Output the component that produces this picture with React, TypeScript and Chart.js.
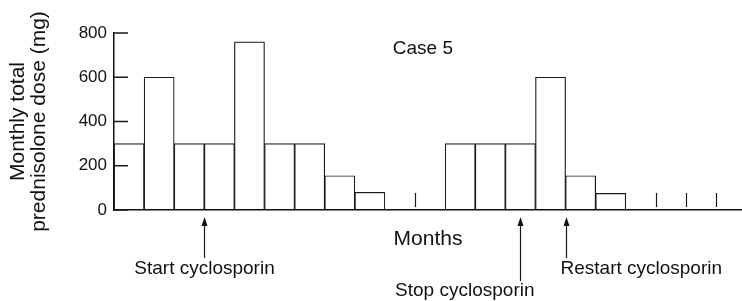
import React, { useEffect, useRef } from 'react';
import { Chart, registerables } from 'chart.js';

Chart.register(...registerables);

// ---- data ----
const monthIndex: number[] = [0, 1, 2, 3, 4, 5, 6, 7, 8, 9, 10, 11, 12, 13, 14, 15, 16, 17, 18, 19, 20];
const doses: number[] = [300, 600, 300, 300, 760, 300, 300, 155, 80, 0, 0, 300, 300, 300, 600, 155, 75, 0, 0, 0, 0];
const yTickStep = 200;
const yMax = 800;
const yTitle: string[] = ['Monthly total', 'prednisolone dose (mg)'];
const xTitle = 'Months';
const caseLabel = 'Case 5';
const eventLabels: string[] = ['Start cyclosporin', 'Stop cyclosporin', 'Restart cyclosporin'];
const eventMonths: number[] = [3, 13.5, 15];

const FONT = "'Liberation Sans', Arial, Helvetica, sans-serif";

// styling for event annotations (offsets relative to chart bottom / arrow x)
const eventStyles = [
  { lineEnd: 48, align: 'center' as CanvasTextAlign, dx: 0, baseline: 64 },
  { lineEnd: 71, align: 'right' as CanvasTextAlign, dx: 14, baseline: 86 },
  { lineEnd: 48, align: 'left' as CanvasTextAlign, dx: -6, baseline: 64 },
];

const annotationPlugin = {
  id: 'customAnnotations',
  afterDraw(chart: any) {
    const { ctx, chartArea, scales } = chart;
    const xs = scales.x;
    const ys = scales.y;
    ctx.save();
    // inward y ticks
    ctx.strokeStyle = '#1a1a1a';
    ctx.lineWidth = 1.5;
    ys.ticks.forEach((t: any) => {
      const py = ys.getPixelForValue(t.value);
      ctx.beginPath();
      ctx.moveTo(chartArea.left, py);
      ctx.lineTo(chartArea.left + 14, py);
      ctx.stroke();
    });
    // separators between consecutive empty months
    ctx.lineWidth = 1.2;
    for (let i = 0; i < doses.length - 1; i++) {
      if (doses[i] === 0 && doses[i + 1] === 0) {
        const px = Math.round(xs.getPixelForValue(monthIndex[i + 1])) + 0.5;
        ctx.beginPath();
        ctx.moveTo(px, chartArea.bottom - 17);
        ctx.lineTo(px, chartArea.bottom - 3);
        ctx.stroke();
      }
    }
    // arrows + labels
    ctx.font = `19px ${FONT}`;
    ctx.fillStyle = '#111';
    ctx.textBaseline = 'alphabetic';
    eventLabels.forEach((label, i) => {
      const st = eventStyles[i];
      const px = Math.round(xs.getPixelForValue(eventMonths[i])) + 0.5;
      const tip = chartArea.bottom + 7;
      ctx.beginPath();
      ctx.moveTo(px, tip + 6);
      ctx.lineTo(px, chartArea.bottom + st.lineEnd);
      ctx.lineWidth = 1.2;
      ctx.stroke();
      ctx.beginPath();
      ctx.moveTo(px, tip);
      ctx.lineTo(px - 3, tip + 9);
      ctx.lineTo(px + 3, tip + 9);
      ctx.closePath();
      ctx.fill();
      ctx.textAlign = st.align;
      ctx.fillText(label, px + st.dx, chartArea.bottom + st.baseline);
    });
    // case label
    ctx.textAlign = 'left';
    ctx.fillText(caseLabel, chartArea.left + (chartArea.right - chartArea.left) * 0.444, chartArea.top + 21);
    ctx.restore();
  },
};

export default function App() {
  const canvasRef = useRef<HTMLCanvasElement | null>(null);

  useEffect(() => {
    if (!canvasRef.current) return;
    const chart = new Chart(canvasRef.current, {
      type: 'bar',
      data: {
        datasets: [
          {
            data: monthIndex.map((m, i) => ({ x: m + 0.5, y: doses[i] })),
            backgroundColor: '#ffffff',
            borderColor: '#1a1a1a',
            borderWidth: (c: any) => (c.raw && c.raw.y === 0 ? 0 : 1.2),
            borderSkipped: 'start',
            barPercentage: 1,
            categoryPercentage: 1,
          },
        ],
      },
      options: {
        animation: false,
        responsive: true,
        maintainAspectRatio: false,
        layout: { padding: { top: 33, left: 0, right: 0, bottom: 0 } },
        plugins: {
          legend: { display: false },
          tooltip: { enabled: false },
          title: { display: false },
        },
        scales: {
          x: {
            type: 'linear',
            offset: false,
            min: 0,
            max: 20.86,
            ticks: { display: false, stepSize: 1, includeBounds: false },
            grid: { display: false, offset: false },
            border: { display: true, color: '#111', width: 1.6, z: 1 },
            title: {
              display: true,
              text: xTitle,
              color: '#111',
              font: { family: FONT, size: 21 },
              padding: { top: 0, bottom: 49 },
            },
            afterFit: (s: any) => {
              s.height = 91;
            },
          },
          y: {
            min: 0,
            max: yMax,
            ticks: {
              stepSize: yTickStep,
              color: '#111',
              padding: 7,
              font: { family: FONT, size: 17 },
            },
            grid: { display: false, drawTicks: false },
            border: { display: true, color: '#111', width: 1.5, z: 1 },
            title: {
              display: true,
              text: yTitle,
              color: '#111',
              font: { family: FONT, size: 21, lineHeight: 1.03 },
              padding: { top: 7, bottom: 0 },
            },
            afterFit: (s: any) => {
              s.width = 114;
            },
          },
        },
      },
      plugins: [annotationPlugin],
    });
    return () => chart.destroy();
  }, []);

  return (
    <div style={{ position: 'absolute', left: 0, top: 0, width: 742, height: 301, background: '#fff' }}>
      <canvas ref={canvasRef} />
    </div>
  );
}
